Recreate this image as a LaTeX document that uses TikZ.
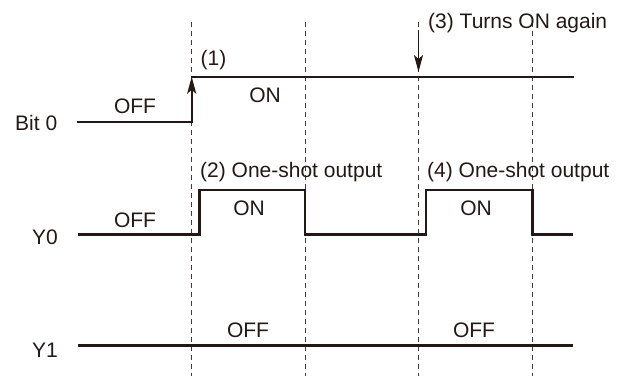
\documentclass[tikz,border=0pt]{standalone}
\usepackage{fontspec}
\setmainfont{Liberation Sans}
\usetikzlibrary{arrows.meta}
\definecolor{ink}{RGB}{35,24,21}
\begin{document}
\begin{tikzpicture}[x=1pt,y=-1pt,
  sig/.style={line width=2.2pt, draw=ink, line join=miter},
  guide/.style={draw=ink!85, line width=0.8pt, dash pattern=on 5pt off 4pt},
  lbl/.style={inner sep=0pt, font=\fontsize{21}{25}\selectfont, text=ink},
  tiparrow/.style={-{Stealth[length=17pt,width=9pt,inset=4pt]}}
]
\useasboundingbox (0,0) rectangle (622,376);
% dashed guide lines
\foreach \n/\x in {ga/191.7,gb/305,gc/418.5,gd/532.5} {
  \coordinate (\n top) at (\x,22);
  \coordinate (\n bot) at (\x,376);
  \draw[guide] (\n top) -- (\n bot);
}
% Bit 0 signal
\coordinate (b0s) at (78,121.7);
\coordinate (b0r) at (191.7,121.7);
\coordinate (b0h) at (191.7,76.7);
\coordinate (b0e) at (573,76.7);
\draw[sig, line cap=rect] (b0s) -- (b0r);
\draw[sig, line cap=rect] (b0h) -- (b0e);
\draw[sig, tiparrow] (b0r) -- (b0h);
% (3) arrow
\coordinate (a3s) at (418.5,30);
\coordinate (a3e) at (418.5,72);
\draw[line width=1.8pt, draw=ink, tiparrow] (a3s) -- (a3e);
% Y0 signal
\coordinate (y0s) at (78,234.5);
\coordinate (y0e) at (573,234.5);
\draw[sig] (y0s) -- (199.5,234.5) -- (199.5,190) -- (305,190) -- (305,234.5)
  -- (426,234.5) -- (426,190) -- (532.5,190) -- (532.5,234.5) -- (y0e);
% Y1 signal
\coordinate (y1s) at (78,345.5);
\coordinate (y1e) at (573,345.5);
\draw[sig] (y1s) -- (y1e);
% labels
\node[lbl, anchor=base west] (bit) at (15,130.5) {Bit 0};
\node[lbl, anchor=base west] (y0) at (32,244) {Y0};
\node[lbl, anchor=base west] (y1) at (32,357) {Y1};
\node[lbl, anchor=base] (off1) at (135,113) {OFF};
\node[lbl, anchor=base] (on1) at (265,102) {ON};
\node[lbl, anchor=base west] (n1) at (200.5,65.5) {(1)};
\node[lbl, anchor=base west] (n3) at (428,28.5) {(3) Turns ON again};
\node[lbl, anchor=base west] (n2) at (200,177.5) {(2) One-shot output};
\node[lbl, anchor=base west] (n4) at (427,177.5) {(4) One-shot output};
\node[lbl, anchor=base] (off2) at (135,227) {OFF};
\node[lbl, anchor=base] (on2) at (249,215) {ON};
\node[lbl, anchor=base] (on3) at (476,215) {ON};
\node[lbl, anchor=base] (off3) at (248,337) {OFF};
\node[lbl, anchor=base] (off4) at (474,337) {OFF};
\end{tikzpicture}
\end{document}
